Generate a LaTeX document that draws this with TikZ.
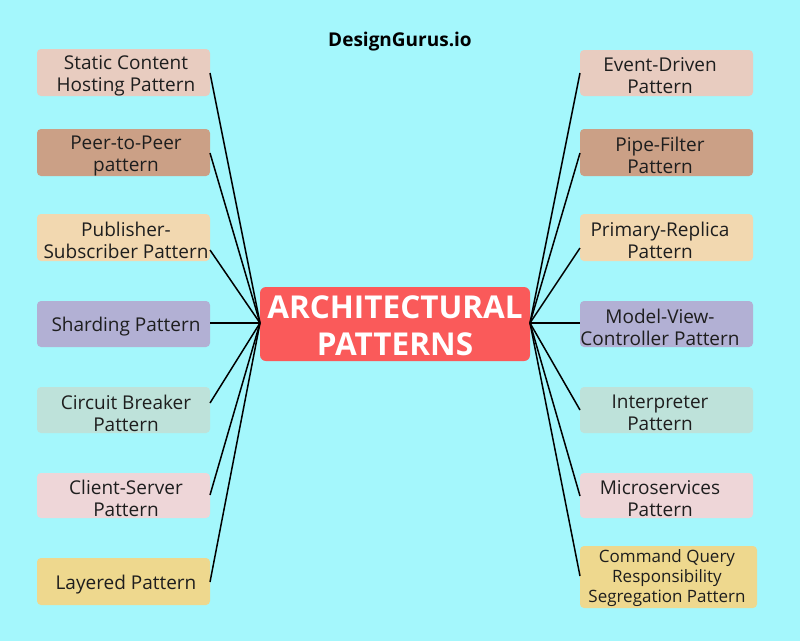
\documentclass[tikz,border=0pt]{standalone}
\usepackage{fontspec}
\setmainfont{Open Sans}
\definecolor{bg}{RGB}{164,247,252}
\definecolor{cA}{RGB}{232,204,192}
\definecolor{cB}{RGB}{203,160,134}
\definecolor{cC}{RGB}{242,216,176}
\definecolor{cD}{RGB}{178,176,212}
\definecolor{cE}{RGB}{190,226,218}
\definecolor{cF}{RGB}{238,214,216}
\definecolor{cG}{RGB}{238,216,142}
\definecolor{cR}{RGB}{250,90,90}
\definecolor{txt}{RGB}{30,30,30}
\tikzset{
  pbox/.style={rounded corners=4pt, inner sep=0pt, align=center, text=txt,
    font=\fontsize{19}{22}\selectfont},
  conn/.style={line width=1.5pt, black}
}
\begin{document}
\begin{tikzpicture}[x=1pt,y=-1pt]
\fill[bg] (0,0) rectangle (800,641);
\useasboundingbox (0,0) rectangle (800,641);
\node[font=\bfseries\fontsize{19}{22}\selectfont, text=black] (title) at (400,42) {DesignGurus.io};
% center
\fill[cR, rounded corners=6pt] (260,287) rectangle (530,361);
\node[font=\bfseries\fontsize{31.5}{37}\selectfont, text=white, align=center] (center) at (395,326) {ARCHITECTURAL\\PATTERNS};
\coordinate (cl) at (260,323);
\coordinate (cr) at (530,323);
% left boxes
\foreach \n/\ya/\yb/\c/\t in {L1/49/96/cA/{Static Content\\Hosting Pattern},
  L2/129/176/cB/{Peer-to-Peer\\pattern},
  L3/214/261/cC/{Publisher-\\Subscriber Pattern},
  L4/301/347/cD/{Sharding Pattern},
  L5/387/433/cE/{Circuit Breaker\\Pattern},
  L6/473/518/cF/{Client-Server\\Pattern},
  L7/558/605/cG/{Layered Pattern}}{
  \fill[\c, rounded corners=4pt] (37,\ya) rectangle (210,\yb);
  \node[pbox] (\n) at (126,{(\ya+\yb)/2+3}) {\t};
}
% right boxes
\foreach \n/\ya/\yb/\c/\t in {R1/50/96/cA/{Event-Driven\\Pattern},
  R2/129/176/cB/{Pipe-Filter\\Pattern},
  R3/214/261/cC/{Primary-Replica\\Pattern},
  R4/301/347/cD/{Model-View-\\Controller Pattern},
  R5/387/433/cE/{Interpreter\\Pattern},
  R6/473/518/cF/{Microservices\\Pattern}}{
  \fill[\c, rounded corners=4pt] (580,\ya) rectangle (753,\yb);
  \node[pbox] (\n) at (660,{(\ya+\yb)/2+3}) {\t};
}
\fill[cG, rounded corners=4pt] (580,546) rectangle (757,608);
\node[pbox, font=\fontsize{17}{20}\selectfont] (R7) at (667,578) {Command Query\\Responsibility\\Segregation Pattern};
% connectors
\coordinate (l1) at (210,73);
\coordinate (l2) at (210,153);
\coordinate (l3) at (210,250);
\coordinate (l4) at (210,323);
\coordinate (l5) at (210,403);
\coordinate (l6) at (210,495);
\coordinate (l7) at (210,582);
\coordinate (r1) at (580,73);
\coordinate (r2) at (580,153);
\coordinate (r3) at (580,248);
\coordinate (r4) at (580,323);
\coordinate (r5) at (580,410);
\coordinate (r6) at (580,496);
\coordinate (r7) at (580,576);
\foreach \i in {1,...,7}{
  \draw[conn] (cl) -- (l\i);
  \draw[conn] (cr) -- (r\i);
}
\end{tikzpicture}
\end{document}
